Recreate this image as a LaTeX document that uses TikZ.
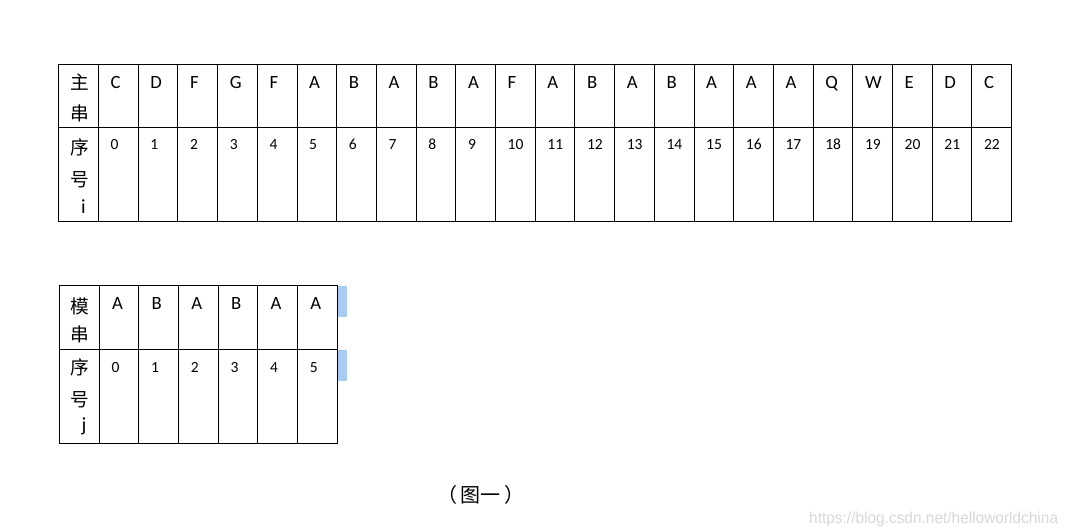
\documentclass[tikz,border=0pt]{standalone}
\usepackage{fontspec}
\setmainfont{Carlito}
\newfontfamily\cjk{Noto Sans CJK SC}
\newfontfamily\wmfont{Liberation Sans}
\definecolor{selblue}{RGB}{170,204,240}
\definecolor{wmgray}{RGB}{215,215,215}
\begin{document}
\begin{tikzpicture}[x=1pt,y=-1pt,
  gridline/.style={line width=1pt,black},
  letter/.style={anchor=base west,inner sep=0pt,font=\fontsize{18.7}{20}\selectfont},
  digit/.style={anchor=base west,inner sep=0pt,font=\fontsize{15.5}{17}\selectfont},
  hanzi/.style={anchor=base,inner sep=0pt,font=\cjk\fontsize{18.7}{20}\selectfont},
  idx/.style={anchor=base,inner sep=0pt,font=\fontsize{20}{22}\selectfont},
  selbar/.style={fill=selblue,draw=none}]
\useasboundingbox (0,0) rectangle (1075,532);
% ---------- top table ----------
\draw[gridline] (58.5,64.5) rectangle (1011.3,221.5);
\draw[gridline] (58.5,127.5) -- (1011.3,127.5);
\foreach \k in {0,...,22} \draw[gridline] ({98.5+39.7*\k},64.5) -- ({98.5+39.7*\k},221.5);
\foreach \c [count=\k from 0] in {C,D,F,G,F,A,B,A,B,A,F,A,B,A,B,A,A,A,Q,W,E,D,C}
  \node[letter] (m\k) at ({98.5+39.7*\k+12},88.5) {\c};
\foreach \k in {0,...,22}
  \node[digit] (n\k) at ({98.5+39.7*\k+12},149.5) {\k};
\node[hanzi] (tz1) at (80,90) {主};
\node[hanzi] (tz2) at (80,121) {串};
\node[hanzi] (tx1) at (80,154) {序};
\node[hanzi] (tx2) at (80,186) {号};
\node[idx] (ti) at (83.5,213) {i};
% ---------- bottom table ----------
\draw[gridline] (59.3,285) rectangle (337.3,443);
\draw[gridline] (59.3,349) -- (337.3,349);
\foreach \k in {0,...,5} \draw[gridline] ({99.3+39.67*\k},285) -- ({99.3+39.67*\k},443);
\foreach \c [count=\k from 0] in {A,B,A,B,A,A}
  \node[letter] (p\k) at ({99.3+39.67*\k+12.5},309.5) {\c};
\foreach \k in {0,...,5}
  \node[digit] (q\k) at ({99.3+39.67*\k+12},372) {\k};
\node[hanzi] (bz1) at (80,313) {模};
\node[hanzi] (bz2) at (80,341) {串};
\node[hanzi] (bx1) at (80,374) {序};
\node[hanzi] (bx2) at (80,406) {号};
\node[idx] (bj) at (84,431) {j};
\fill[selbar] (337.8,286) rectangle (347,317);
\fill[selbar] (337.8,350) rectangle (347,381);
% ---------- caption & watermark ----------
\node[anchor=base,inner sep=0pt,font=\cjk\fontsize{20}{22}\selectfont] (cap) at (481,502) {（\,图一\,）};
\node[anchor=base west,inner sep=0pt,font=\wmfont\fontsize{16}{18}\selectfont,text=wmgray] (wm) at (809,523.5) {\scalebox{0.965}[1]{https://blog.csdn.net/helloworldchina}};
\end{tikzpicture}
\end{document}
